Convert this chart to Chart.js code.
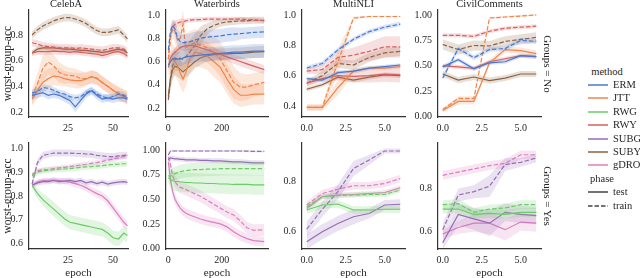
<!DOCTYPE html>
<html>
<head>
<meta charset="utf-8">
<title>worst-group-acc by epoch</title>
<script src="https://cdn.jsdelivr.net/npm/chart.js@4.4.1/dist/chart.umd.min.js"></script>
<style>
  html, body { margin: 0; padding: 0; background: #fff; }
  body { position: relative; width: 640px; height: 278px; overflow: hidden;
         font-family: 'Liberation Serif', 'DejaVu Serif', serif; color: #262626; }
  canvas { position: absolute; }
  .txt { position: absolute; white-space: nowrap; line-height: 1; transform: translate(-50%, -50%); }
  .facet { position: absolute; white-space: nowrap; font-size: 11px; line-height: 1;
           transform: translate(-50%, -50%) rotate(90deg); }
  .key { position: absolute; }
  .lbl { position: absolute; font-size: 10.5px; line-height: 1; white-space: nowrap; transform: translateY(-50%); }
</style>
</head>
<body>
<script>
// ---- data ----
const celebaEpochs = [5, 8, 11, 14, 17, 20, 23, 26, 29, 32, 35, 38, 41, 44, 47, 50, 53, 56, 58];
const waterbirdsEpochs = [0, 8, 16, 25, 35, 45, 55, 65, 80, 100, 120, 145, 170, 195, 220, 245, 270, 295, 320, 360];
const multinliEpochs = [0, 1, 2, 3, 4, 5, 6];
const civilEpochs = [0, 1, 2, 3, 4, 5, 6];

// CelebA, Groups = No
const celebaNoErmTest = [0.33, 0.34, 0.35, 0.33, 0.34, 0.33, 0.31, 0.29, 0.24, 0.29, 0.34, 0.365, 0.33, 0.30, 0.31, 0.30, 0.31, 0.31, 0.30];
const celebaNoErmTestSd = [0.03, 0.03, 0.03, 0.03, 0.03, 0.03, 0.03, 0.035, 0.04, 0.035, 0.03, 0.03, 0.03, 0.03, 0.03, 0.03, 0.03, 0.03, 0.03];
const celebaNoErmTrain = [0.35, 0.36, 0.39, 0.385, 0.37, 0.35, 0.34, 0.32, 0.31, 0.32, 0.35, 0.37, 0.34, 0.32, 0.31, 0.32, 0.34, 0.33, 0.31];
const celebaNoErmTrainSd = [0.025, 0.025, 0.025, 0.025, 0.025, 0.025, 0.025, 0.025, 0.025, 0.025, 0.025, 0.025, 0.025, 0.025, 0.025, 0.025, 0.025, 0.025, 0.025];
const celebaNoJttTest = [0.30, 0.37, 0.43, 0.46, 0.48, 0.475, 0.46, 0.45, 0.445, 0.445, 0.455, 0.475, 0.46, 0.43, 0.40, 0.37, 0.34, 0.32, 0.31];
const celebaNoJttTestSd = [0.05, 0.07, 0.08, 0.08, 0.07, 0.07, 0.06, 0.06, 0.06, 0.06, 0.05, 0.05, 0.05, 0.05, 0.05, 0.05, 0.05, 0.05, 0.05];
const celebaNoJttTrain = [0.32, 0.42, 0.54, 0.59, 0.56, 0.51, 0.49, 0.485, 0.48, 0.46, 0.46, 0.475, 0.465, 0.43, 0.40, 0.37, 0.35, 0.33, 0.31];
const celebaNoJttTrainSd = [0.06, 0.08, 0.10, 0.10, 0.09, 0.08, 0.07, 0.06, 0.06, 0.06, 0.05, 0.05, 0.05, 0.05, 0.05, 0.05, 0.05, 0.05, 0.05];
const celebaNoRwyTest = [0.66, 0.67, 0.67, 0.67, 0.675, 0.67, 0.67, 0.665, 0.67, 0.665, 0.66, 0.655, 0.65, 0.64, 0.65, 0.665, 0.67, 0.655, 0.635];
const celebaNoRwyTestSd = [0.025, 0.025, 0.025, 0.025, 0.025, 0.025, 0.025, 0.025, 0.025, 0.025, 0.025, 0.025, 0.025, 0.025, 0.025, 0.025, 0.025, 0.025, 0.025];
const celebaNoRwyTrain = [0.74, 0.73, 0.715, 0.71, 0.705, 0.70, 0.70, 0.70, 0.695, 0.70, 0.695, 0.69, 0.685, 0.68, 0.69, 0.70, 0.70, 0.69, 0.67];
const celebaNoRwyTrainSd = [0.03, 0.03, 0.03, 0.03, 0.03, 0.03, 0.03, 0.03, 0.03, 0.03, 0.03, 0.03, 0.03, 0.03, 0.03, 0.03, 0.03, 0.03, 0.03];
const celebaNoSubyTest = [0.66, 0.69, 0.70, 0.70, 0.70, 0.695, 0.69, 0.69, 0.685, 0.68, 0.68, 0.675, 0.67, 0.665, 0.67, 0.68, 0.69, 0.68, 0.66];
const celebaNoSubyTestSd = [0.02, 0.02, 0.02, 0.02, 0.02, 0.02, 0.02, 0.02, 0.02, 0.02, 0.02, 0.02, 0.02, 0.02, 0.02, 0.02, 0.02, 0.02, 0.02];
const celebaNoSubyTrain = [0.80, 0.84, 0.87, 0.89, 0.91, 0.925, 0.935, 0.935, 0.925, 0.91, 0.89, 0.86, 0.835, 0.82, 0.82, 0.83, 0.84, 0.80, 0.77];
const celebaNoSubyTrainSd = [0.03, 0.03, 0.03, 0.03, 0.03, 0.03, 0.03, 0.03, 0.03, 0.03, 0.03, 0.03, 0.03, 0.03, 0.03, 0.03, 0.03, 0.03, 0.03];

// CelebA, Groups = Yes
const celebaYesRwgTest = [0.845, 0.81, 0.785, 0.765, 0.745, 0.725, 0.705, 0.69, 0.685, 0.68, 0.675, 0.67, 0.665, 0.66, 0.645, 0.625, 0.62, 0.645, 0.635];
const celebaYesRwgTestSd = [0.01, 0.02, 0.025, 0.03, 0.03, 0.03, 0.03, 0.03, 0.03, 0.03, 0.03, 0.03, 0.03, 0.03, 0.03, 0.03, 0.03, 0.03, 0.03];
const celebaYesRwgTrain = [0.885, 0.90, 0.905, 0.908, 0.91, 0.912, 0.913, 0.915, 0.917, 0.92, 0.922, 0.923, 0.925, 0.927, 0.93, 0.932, 0.933, 0.935, 0.935];
const celebaYesRwgTrainSd = [0.012, 0.012, 0.012, 0.012, 0.012, 0.012, 0.012, 0.012, 0.012, 0.012, 0.012, 0.012, 0.012, 0.012, 0.012, 0.012, 0.012, 0.012, 0.012];
const celebaYesSubgTest = [0.845, 0.855, 0.86, 0.86, 0.865, 0.86, 0.862, 0.865, 0.86, 0.865, 0.855, 0.86, 0.852, 0.858, 0.85, 0.855, 0.858, 0.86, 0.857];
const celebaYesSubgTestSd = [0.012, 0.012, 0.012, 0.012, 0.012, 0.012, 0.012, 0.012, 0.012, 0.012, 0.012, 0.012, 0.012, 0.012, 0.012, 0.012, 0.012, 0.012, 0.012];
const celebaYesSubgTrain = [0.85, 0.94, 0.97, 0.975, 0.98, 0.98, 0.98, 0.98, 0.978, 0.978, 0.976, 0.975, 0.97, 0.968, 0.965, 0.965, 0.968, 0.97, 0.97];
const celebaYesSubgTrainSd = [0.015, 0.015, 0.015, 0.015, 0.015, 0.015, 0.015, 0.015, 0.015, 0.015, 0.015, 0.015, 0.015, 0.015, 0.015, 0.015, 0.015, 0.015, 0.015];
const celebaYesGdroTest = [0.845, 0.858, 0.865, 0.866, 0.866, 0.864, 0.862, 0.858, 0.852, 0.845, 0.835, 0.822, 0.81, 0.80, 0.78, 0.75, 0.72, 0.69, 0.675];
const celebaYesGdroTestSd = [0.01, 0.01, 0.01, 0.01, 0.012, 0.012, 0.012, 0.014, 0.014, 0.015, 0.015, 0.016, 0.017, 0.018, 0.02, 0.02, 0.02, 0.02, 0.02];
const celebaYesGdroTrain = [0.89, 0.905, 0.91, 0.912, 0.915, 0.918, 0.92, 0.923, 0.927, 0.93, 0.933, 0.937, 0.94, 0.945, 0.95, 0.955, 0.96, 0.965, 0.97];
const celebaYesGdroTrainSd = [0.01, 0.01, 0.01, 0.01, 0.01, 0.01, 0.01, 0.01, 0.01, 0.01, 0.01, 0.01, 0.01, 0.01, 0.01, 0.01, 0.01, 0.01, 0.01];

// Waterbirds, Groups = No
const wbNoErmTest = [0.57, 0.60, 0.62, 0.63, 0.62, 0.62, 0.63, 0.64, 0.645, 0.65, 0.655, 0.66, 0.665, 0.67, 0.675, 0.68, 0.68, 0.685, 0.69, 0.69];
const wbNoErmTestSd = [0.04, 0.05, 0.06, 0.06, 0.06, 0.06, 0.06, 0.06, 0.06, 0.06, 0.06, 0.06, 0.06, 0.06, 0.06, 0.06, 0.06, 0.06, 0.06, 0.06];
const wbNoErmTrain = [0.70, 0.86, 0.91, 0.88, 0.80, 0.77, 0.76, 0.765, 0.77, 0.785, 0.80, 0.81, 0.815, 0.82, 0.83, 0.835, 0.84, 0.845, 0.85, 0.855];
const wbNoErmTrainSd = [0.05, 0.05, 0.05, 0.06, 0.07, 0.07, 0.07, 0.07, 0.07, 0.07, 0.06, 0.06, 0.06, 0.06, 0.06, 0.06, 0.05, 0.05, 0.05, 0.05];
const wbNoJttTest = [0.55, 0.60, 0.63, 0.60, 0.56, 0.50, 0.45, 0.50, 0.62, 0.68, 0.67, 0.65, 0.60, 0.55, 0.45, 0.36, 0.31, 0.31, 0.32, 0.32];
const wbNoJttTestSd = [0.08, 0.10, 0.12, 0.12, 0.12, 0.12, 0.12, 0.12, 0.12, 0.12, 0.12, 0.12, 0.13, 0.13, 0.13, 0.12, 0.10, 0.09, 0.09, 0.09];
const wbNoJttTrain = [0.62, 0.80, 0.88, 0.86, 0.78, 0.80, 0.92, 0.72, 0.74, 0.76, 0.74, 0.72, 0.68, 0.62, 0.52, 0.42, 0.38, 0.38, 0.40, 0.42];
const wbNoJttTrainSd = [0.08, 0.08, 0.08, 0.10, 0.12, 0.12, 0.12, 0.12, 0.12, 0.12, 0.12, 0.13, 0.14, 0.15, 0.15, 0.14, 0.12, 0.11, 0.10, 0.10];
const wbNoRwyTest = [0.55, 0.63, 0.66, 0.68, 0.70, 0.72, 0.73, 0.735, 0.74, 0.735, 0.72, 0.70, 0.68, 0.66, 0.64, 0.62, 0.60, 0.58, 0.56, 0.53];
const wbNoRwyTestSd = [0.04, 0.04, 0.04, 0.04, 0.04, 0.04, 0.04, 0.04, 0.04, 0.04, 0.04, 0.04, 0.04, 0.04, 0.04, 0.04, 0.04, 0.04, 0.04, 0.04];
const wbNoRwyTrain = [0.62, 0.82, 0.90, 0.92, 0.93, 0.94, 0.94, 0.95, 0.955, 0.96, 0.96, 0.965, 0.965, 0.965, 0.965, 0.965, 0.965, 0.96, 0.96, 0.95];
const wbNoRwyTrainSd = [0.06, 0.05, 0.04, 0.03, 0.03, 0.03, 0.03, 0.02, 0.02, 0.02, 0.02, 0.02, 0.02, 0.02, 0.02, 0.02, 0.02, 0.02, 0.02, 0.02];
const wbNoSubyTest = [0.30, 0.45, 0.53, 0.56, 0.55, 0.53, 0.51, 0.53, 0.56, 0.60, 0.63, 0.65, 0.66, 0.665, 0.665, 0.67, 0.67, 0.675, 0.68, 0.685];
const wbNoSubyTestSd = [0.05, 0.08, 0.08, 0.08, 0.08, 0.08, 0.08, 0.07, 0.07, 0.06, 0.06, 0.05, 0.05, 0.05, 0.05, 0.05, 0.05, 0.05, 0.05, 0.05];
const wbNoSubyTrain = [0.27, 0.45, 0.56, 0.62, 0.62, 0.63, 0.62, 0.64, 0.68, 0.74, 0.82, 0.88, 0.91, 0.93, 0.94, 0.945, 0.95, 0.95, 0.955, 0.955];
const wbNoSubyTrainSd = [0.05, 0.10, 0.10, 0.10, 0.10, 0.10, 0.10, 0.10, 0.10, 0.10, 0.08, 0.05, 0.04, 0.03, 0.03, 0.03, 0.03, 0.03, 0.03, 0.03];

// Waterbirds, Groups = Yes
const wbYesRwgTest = [0.72, 0.70, 0.69, 0.68, 0.68, 0.675, 0.675, 0.67, 0.67, 0.665, 0.665, 0.66, 0.66, 0.655, 0.655, 0.65, 0.65, 0.65, 0.645, 0.645];
const wbYesRwgTestSd = [0.06, 0.08, 0.10, 0.10, 0.10, 0.10, 0.10, 0.10, 0.10, 0.10, 0.10, 0.10, 0.10, 0.10, 0.10, 0.10, 0.10, 0.10, 0.10, 0.10];
const wbYesRwgTrain = [0.74, 0.73, 0.75, 0.76, 0.77, 0.78, 0.785, 0.79, 0.795, 0.80, 0.80, 0.805, 0.805, 0.81, 0.81, 0.81, 0.81, 0.81, 0.81, 0.81];
const wbYesRwgTrainSd = [0.07, 0.07, 0.07, 0.07, 0.07, 0.07, 0.07, 0.07, 0.07, 0.07, 0.07, 0.07, 0.07, 0.07, 0.07, 0.07, 0.07, 0.07, 0.07, 0.07];
const wbYesSubgTest = [0.90, 0.92, 0.915, 0.91, 0.91, 0.905, 0.905, 0.90, 0.90, 0.90, 0.895, 0.895, 0.89, 0.89, 0.885, 0.88, 0.88, 0.875, 0.87, 0.87];
const wbYesSubgTestSd = [0.025, 0.025, 0.025, 0.025, 0.025, 0.025, 0.025, 0.025, 0.025, 0.025, 0.025, 0.025, 0.025, 0.025, 0.025, 0.025, 0.025, 0.025, 0.025, 0.025];
const wbYesSubgTrain = [0.95, 0.99, 0.99, 0.99, 0.99, 0.99, 0.99, 0.99, 0.99, 0.99, 0.99, 0.99, 0.99, 0.99, 0.99, 0.99, 0.99, 0.988, 0.986, 0.985];
const wbYesSubgTrainSd = [0.01, 0.01, 0.01, 0.01, 0.01, 0.01, 0.01, 0.01, 0.01, 0.01, 0.01, 0.01, 0.01, 0.01, 0.01, 0.01, 0.01, 0.01, 0.01, 0.01];
const wbYesGdroTest = [0.88, 0.70, 0.58, 0.50, 0.45, 0.41, 0.38, 0.36, 0.34, 0.32, 0.30, 0.28, 0.265, 0.25, 0.22, 0.17, 0.13, 0.10, 0.08, 0.07];
const wbYesGdroTestSd = [0.05, 0.05, 0.05, 0.05, 0.05, 0.05, 0.05, 0.05, 0.05, 0.05, 0.05, 0.05, 0.05, 0.05, 0.05, 0.05, 0.05, 0.05, 0.05, 0.05];
const wbYesGdroTrain = [0.93, 0.85, 0.74, 0.68, 0.64, 0.62, 0.61, 0.60, 0.58, 0.555, 0.53, 0.49, 0.45, 0.41, 0.37, 0.34, 0.28, 0.21, 0.185, 0.19];
const wbYesGdroTrainSd = [0.06, 0.06, 0.06, 0.06, 0.06, 0.06, 0.06, 0.06, 0.06, 0.06, 0.06, 0.06, 0.06, 0.06, 0.06, 0.06, 0.06, 0.06, 0.06, 0.06];

// MultiNLI, Groups = No
const nliNoErmTest = [0.58, 0.57, 0.62, 0.63, 0.65, 0.66, 0.67];
const nliNoErmTestSd = [0.012, 0.012, 0.012, 0.012, 0.012, 0.012, 0.012];
const nliNoErmTrain = [0.65, 0.68, 0.77, 0.84, 0.89, 0.92, 0.94];
const nliNoErmTrainSd = [0.015, 0.015, 0.015, 0.015, 0.015, 0.015, 0.015];
const nliNoJttTest = [0.39, 0.39, 0.52, 0.63, 0.65, 0.65, 0.66];
const nliNoJttTestSd = [0.02, 0.02, 0.05, 0.02, 0.015, 0.015, 0.015];
const nliNoJttTrain = [0.39, 0.39, 0.69, 0.98, 0.99, 0.99, 0.99];
const nliNoJttTrainSd = [0.02, 0.02, 0.08, 0.01, 0.005, 0.005, 0.005];
const nliNoRwyTest = [0.55, 0.58, 0.60, 0.595, 0.60, 0.61, 0.605];
const nliNoRwyTestSd = [0.02, 0.02, 0.03, 0.04, 0.045, 0.05, 0.05];
const nliNoRwyTrain = [0.63, 0.64, 0.72, 0.735, 0.76, 0.79, 0.79];
const nliNoRwyTrainSd = [0.02, 0.03, 0.04, 0.05, 0.06, 0.07, 0.07];
const nliNoSubyTest = [0.51, 0.54, 0.59, 0.57, 0.59, 0.605, 0.60];
const nliNoSubyTestSd = [0.015, 0.015, 0.015, 0.015, 0.015, 0.015, 0.015];
const nliNoSubyTrain = [0.55, 0.60, 0.68, 0.67, 0.72, 0.75, 0.76];
const nliNoSubyTrainSd = [0.02, 0.03, 0.03, 0.03, 0.03, 0.03, 0.03];

// MultiNLI, Groups = Yes
const nliYesRwgTest = [0.687, 0.707, 0.711, 0.687, 0.687, 0.69, 0.69];
const nliYesRwgTestSd = [0.015, 0.015, 0.015, 0.015, 0.015, 0.015, 0.015];
const nliYesRwgTrain = [0.70, 0.74, 0.745, 0.747, 0.749, 0.749, 0.767];
const nliYesRwgTrainSd = [0.01, 0.01, 0.01, 0.01, 0.01, 0.01, 0.01];
const nliYesSubgTest = [0.56, 0.60, 0.633, 0.66, 0.673, 0.707, 0.71];
const nliYesSubgTestSd = [0.03, 0.03, 0.03, 0.03, 0.02, 0.02, 0.02];
const nliYesSubgTrain = [0.61, 0.69, 0.76, 0.853, 0.887, 0.923, 0.923];
const nliYesSubgTrainSd = [0.03, 0.03, 0.03, 0.03, 0.02, 0.01, 0.01];
const nliYesGdroTest = [0.693, 0.74, 0.747, 0.749, 0.753, 0.757, 0.776];
const nliYesGdroTestSd = [0.01, 0.01, 0.01, 0.01, 0.01, 0.01, 0.01];
const nliYesGdroTrain = [0.707, 0.753, 0.77, 0.784, 0.784, 0.793, 0.813];
const nliYesGdroTrainSd = [0.015, 0.015, 0.015, 0.015, 0.015, 0.015, 0.015];

// CivilComments, Groups = No
const civilNoErmTest = [0.49, 0.56, 0.47, 0.53, 0.54, 0.60, 0.59];
const civilNoErmTestSd = [0.02, 0.02, 0.02, 0.02, 0.02, 0.02, 0.02];
const civilNoErmTrain = [0.38, 0.67, 0.58, 0.66, 0.67, 0.75, 0.74];
const civilNoErmTrainSd = [0.025, 0.025, 0.025, 0.025, 0.025, 0.025, 0.025];
const civilNoJttTest = [0.06, 0.15, 0.15, 0.53, 0.66, 0.65, 0.62];
const civilNoJttTestSd = [0.02, 0.03, 0.03, 0.03, 0.03, 0.03, 0.03];
const civilNoJttTrain = [0.07, 0.18, 0.18, 0.97, 0.98, 0.99, 1.00];
const civilNoJttTrainSd = [0.01, 0.02, 0.02, 0.01, 0.01, 0.01, 0.01];
const civilNoRwyTest = [0.50, 0.49, 0.475, 0.54, 0.57, 0.60, 0.59];
const civilNoRwyTestSd = [0.02, 0.02, 0.02, 0.02, 0.02, 0.02, 0.02];
const civilNoRwyTrain = [0.80, 0.80, 0.79, 0.84, 0.87, 0.88, 0.89];
const civilNoRwyTrainSd = [0.02, 0.02, 0.02, 0.02, 0.02, 0.02, 0.02];
const civilNoSubyTest = [0.42, 0.36, 0.39, 0.355, 0.38, 0.42, 0.42];
const civilNoSubyTestSd = [0.03, 0.03, 0.03, 0.03, 0.03, 0.03, 0.03];
const civilNoSubyTrain = [0.71, 0.66, 0.70, 0.695, 0.74, 0.76, 0.78];
const civilNoSubyTrainSd = [0.05, 0.05, 0.05, 0.05, 0.05, 0.05, 0.05];

// CivilComments, Groups = Yes
const civilYesRwgTest = [0.705, 0.705, 0.68, 0.685, 0.68, 0.69, 0.69];
const civilYesRwgTestSd = [0.02, 0.02, 0.02, 0.02, 0.02, 0.02, 0.02];
const civilYesRwgTrain = [0.725, 0.73, 0.69, 0.705, 0.71, 0.725, 0.725];
const civilYesRwgTrainSd = [0.02, 0.02, 0.02, 0.02, 0.02, 0.02, 0.02];
const civilYesSubgTest = [0.55, 0.68, 0.66, 0.64, 0.69, 0.68, 0.675];
const civilYesSubgTestSd = [0.03, 0.05, 0.05, 0.06, 0.04, 0.04, 0.04];
const civilYesSubgTrain = [0.61, 0.77, 0.785, 0.81, 0.91, 0.92, 0.94];
const civilYesSubgTrainSd = [0.03, 0.03, 0.03, 0.05, 0.03, 0.02, 0.02];
const civilYesGdroTest = [0.59, 0.62, 0.64, 0.64, 0.61, 0.645, 0.64];
const civilYesGdroTestSd = [0.02, 0.03, 0.04, 0.05, 0.05, 0.04, 0.04];
const civilYesGdroTrain = [0.86, 0.875, 0.89, 0.905, 0.915, 0.955, 0.955];
const civilYesGdroTrainSd = [0.02, 0.02, 0.02, 0.02, 0.02, 0.02, 0.02];

const methodNames = ['ERM', 'JTT', 'RWG', 'RWY', 'SUBG', 'SUBY', 'gDRO'];
const methodColors = ['#4878d0', '#ee854a', '#6acc64', '#d65f5f', '#956cb4', '#8c613c', '#dc7ec0'];

// ---- layout ----
const SERIF = "'Liberation Serif', 'DejaVu Serif', serif";
const INK = '#262626';
const colLeft = [29, 166, 302, 438];
const colRight = [128, 268, 405, 541];
const rowTop = [10, 143];
const rowBottom = [117, 249];
const titleShift = [-12.5, 0, 0, 0];   // CelebA title sits left of its plot centre

function colorOf(method) {
    return methodColors[methodNames.indexOf(method)];
}

function withAlpha(hex, a) {
    const n = parseInt(hex.slice(1), 16);
    return `rgba(${(n >> 16) & 255}, ${(n >> 8) & 255}, ${n & 255}, ${a})`;
}

function series(method, phase, mean, sd) {
    return { method, phase, mean, sd };
}

const panels = [
    { row: 0, col: 0, title: 'CelebA', epochs: celebaEpochs, xr: [3.3, 58.3], xt: [25, 50], xd: 0,
      yr: [0.161, 0.995], yt: [0.2, 0.4, 0.6, 0.8], yd: 1,
      lines: [series('ERM', 'test', celebaNoErmTest, celebaNoErmTestSd), series('ERM', 'train', celebaNoErmTrain, celebaNoErmTrainSd),
              series('JTT', 'test', celebaNoJttTest, celebaNoJttTestSd), series('JTT', 'train', celebaNoJttTrain, celebaNoJttTrainSd),
              series('RWY', 'test', celebaNoRwyTest, celebaNoRwyTestSd), series('RWY', 'train', celebaNoRwyTrain, celebaNoRwyTrainSd),
              series('SUBY', 'test', celebaNoSubyTest, celebaNoSubyTestSd), series('SUBY', 'train', celebaNoSubyTrain, celebaNoSubyTrainSd)] },
    { row: 0, col: 1, title: 'Waterbirds', epochs: waterbirdsEpochs, xr: [-8.7, 373.8], xt: [0, 200], xd: 0,
      yr: [0.123, 1.043], yt: [0.2, 0.4, 0.6, 0.8, 1.0], yd: 1,
      lines: [series('ERM', 'test', wbNoErmTest, wbNoErmTestSd), series('ERM', 'train', wbNoErmTrain, wbNoErmTrainSd),
              series('JTT', 'test', wbNoJttTest, wbNoJttTestSd), series('JTT', 'train', wbNoJttTrain, wbNoJttTrainSd),
              series('RWY', 'test', wbNoRwyTest, wbNoRwyTestSd), series('RWY', 'train', wbNoRwyTrain, wbNoRwyTrainSd),
              series('SUBY', 'test', wbNoSubyTest, wbNoSubyTestSd), series('SUBY', 'train', wbNoSubyTrain, wbNoSubyTrainSd)] },
    { row: 0, col: 2, title: 'MultiNLI', epochs: multinliEpochs, xr: [-0.3, 6.3], xt: [0, 2.5, 5], xd: 1,
      yr: [0.327, 1.033], yt: [0.4, 0.6, 0.8, 1.0], yd: 1,
      lines: [series('ERM', 'test', nliNoErmTest, nliNoErmTestSd), series('ERM', 'train', nliNoErmTrain, nliNoErmTrainSd),
              series('JTT', 'test', nliNoJttTest, nliNoJttTestSd), series('JTT', 'train', nliNoJttTrain, nliNoJttTrainSd),
              series('RWY', 'test', nliNoRwyTest, nliNoRwyTestSd), series('RWY', 'train', nliNoRwyTrain, nliNoRwyTrainSd),
              series('SUBY', 'test', nliNoSubyTest, nliNoSubyTestSd), series('SUBY', 'train', nliNoSubyTrain, nliNoSubyTrainSd)] },
    { row: 0, col: 3, title: 'CivilComments', epochs: civilEpochs, xr: [-0.3, 6.3], xt: [0, 2.5, 5], xd: 1,
      yr: [-0.003, 1.049], yt: [0, 0.25, 0.5, 0.75, 1.0], yd: 2,
      lines: [series('ERM', 'test', civilNoErmTest, civilNoErmTestSd), series('ERM', 'train', civilNoErmTrain, civilNoErmTrainSd),
              series('JTT', 'test', civilNoJttTest, civilNoJttTestSd), series('JTT', 'train', civilNoJttTrain, civilNoJttTrainSd),
              series('RWY', 'test', civilNoRwyTest, civilNoRwyTestSd), series('RWY', 'train', civilNoRwyTrain, civilNoRwyTrainSd),
              series('SUBY', 'test', civilNoSubyTest, civilNoSubyTestSd), series('SUBY', 'train', civilNoSubyTrain, civilNoSubyTrainSd)] },
    { row: 1, col: 0, title: '', epochs: celebaEpochs, xr: [3.3, 58.3], xt: [25, 50], xd: 0,
      yr: [0.578, 1.022], yt: [0.6, 0.7, 0.8, 0.9, 1.0], yd: 1,
      lines: [series('RWG', 'test', celebaYesRwgTest, celebaYesRwgTestSd), series('RWG', 'train', celebaYesRwgTrain, celebaYesRwgTrainSd),
              series('SUBG', 'test', celebaYesSubgTest, celebaYesSubgTestSd), series('SUBG', 'train', celebaYesSubgTrain, celebaYesSubgTrainSd),
              series('gDRO', 'test', celebaYesGdroTest, celebaYesGdroTestSd), series('gDRO', 'train', celebaYesGdroTrain, celebaYesGdroTrainSd)] },
    { row: 1, col: 1, title: '', epochs: waterbirdsEpochs, xr: [-8.7, 373.8], xt: [0, 200], xd: 0,
      yr: [-0.005, 1.071], yt: [0, 0.25, 0.5, 0.75, 1.0], yd: 2,
      lines: [series('RWG', 'test', wbYesRwgTest, wbYesRwgTestSd), series('RWG', 'train', wbYesRwgTrain, wbYesRwgTrainSd),
              series('SUBG', 'test', wbYesSubgTest, wbYesSubgTestSd), series('SUBG', 'train', wbYesSubgTrain, wbYesSubgTrainSd),
              series('gDRO', 'test', wbYesGdroTest, wbYesGdroTestSd), series('gDRO', 'train', wbYesGdroTrain, wbYesGdroTrainSd)] },
    { row: 1, col: 2, title: '', epochs: multinliEpochs, xr: [-0.3, 6.3], xt: [0, 2.5, 5], xd: 1,
      yr: [0.531, 0.955], yt: [0.6, 0.8], yd: 1,
      lines: [series('RWG', 'test', nliYesRwgTest, nliYesRwgTestSd), series('RWG', 'train', nliYesRwgTrain, nliYesRwgTrainSd),
              series('SUBG', 'test', nliYesSubgTest, nliYesSubgTestSd), series('SUBG', 'train', nliYesSubgTrain, nliYesSubgTrainSd),
              series('gDRO', 'test', nliYesGdroTest, nliYesGdroTestSd), series('gDRO', 'train', nliYesGdroTrain, nliYesGdroTrainSd)] },
    { row: 1, col: 3, title: '', epochs: civilEpochs, xr: [-0.3, 6.3], xt: [0, 2.5, 5], xd: 1,
      yr: [0.521, 1.009], yt: [0.6, 0.8], yd: 1,
      lines: [series('RWG', 'test', civilYesRwgTest, civilYesRwgTestSd), series('RWG', 'train', civilYesRwgTrain, civilYesRwgTrainSd),
              series('SUBG', 'test', civilYesSubgTest, civilYesSubgTestSd), series('SUBG', 'train', civilYesSubgTrain, civilYesSubgTrainSd),
              series('gDRO', 'test', civilYesGdroTest, civilYesGdroTestSd), series('gDRO', 'train', civilYesGdroTrain, civilYesGdroTrainSd)] }
];

// panel title centred over the plot area (the stock title centres over the whole canvas)
const panelTitle = {
    id: 'panelTitle',
    afterDraw(chart, args, opts) {
        if (!opts.text) return;
        const { ctx, chartArea } = chart;
        ctx.save();
        ctx.font = `10.5px ${SERIF}`;
        ctx.fillStyle = INK;
        ctx.textAlign = 'center';
        ctx.textBaseline = 'middle';
        ctx.fillText(opts.text, (chartArea.left + chartArea.right) / 2 + opts.shift, chartArea.top - 6);
        ctx.restore();
    }
};

function buildDatasets(p) {
    const out = [];
    p.lines.forEach(s => {
        const col = colorOf(s.method);
        // band: lower edge, then upper edge filled down to it
        out.push({ data: p.epochs.map((x, i) => ({ x, y: s.mean[i] - s.sd[i] })),
                   borderWidth: 0, pointRadius: 0, fill: false, borderColor: 'transparent' });
        out.push({ data: p.epochs.map((x, i) => ({ x, y: s.mean[i] + s.sd[i] })),
                   borderWidth: 0, pointRadius: 0, fill: '-1', borderColor: 'transparent',
                   backgroundColor: withAlpha(col, 0.2) });
        out.push({ data: p.epochs.map((x, i) => ({ x, y: s.mean[i] })),
                   borderColor: col, borderWidth: 1.2, pointRadius: 0, fill: false,
                   borderDash: s.phase === 'train' ? [4.5, 2] : [] });
    });
    return out;
}

function makePanel(p) {
    const yw = p.col === 0 ? 29 : 30;
    const topSpace = p.row === 0 ? 13 : 8;
    const xh = p.row === 0 ? 20 : 30;
    const plotW = colRight[p.col] - colLeft[p.col];
    const plotH = rowBottom[p.row] - rowTop[p.row];

    const canvas = document.createElement('canvas');
    canvas.width = yw + plotW + 6;
    canvas.height = topSpace + plotH + xh;
    canvas.style.left = (colLeft[p.col] - yw) + 'px';
    canvas.style.top = (rowTop[p.row] - topSpace) + 'px';
    document.body.appendChild(canvas);

    const tickFont = { family: SERIF, size: 10 };

    new Chart(canvas.getContext('2d'), {
        type: 'line',
        data: { datasets: buildDatasets(p) },
        plugins: [panelTitle],
        options: {
            responsive: false,
            animation: false,
            events: [],
            layout: { padding: { top: topSpace, right: 6, left: 0, bottom: 0 } },
            plugins: {
                legend: { display: false },
                tooltip: { enabled: false },
                panelTitle: { text: p.title, shift: titleShift[p.col] }
            },
            scales: {
                x: {
                    type: 'linear',
                    min: p.xr[0],
                    max: p.xr[1],
                    grid: { display: false, drawTicks: false },
                    border: { display: true, color: '#333', width: 1.2 },
                    ticks: { font: tickFont, color: INK, padding: 5, maxRotation: 0,
                             callback: v => v.toFixed(p.xd) },
                    title: { display: p.row === 1, text: 'epoch', color: INK,
                             font: { family: SERIF, size: 11, lineHeight: '12px' }, padding: 0 },
                    afterBuildTicks: s => { s.ticks = p.xt.map(v => ({ value: v })); },
                    afterFit: s => { s.height = xh; s.paddingLeft = 0; s.paddingRight = 0; }
                },
                y: {
                    type: 'linear',
                    min: p.yr[0],
                    max: p.yr[1],
                    grid: { display: false, drawTicks: false },
                    border: { display: true, color: '#333', width: 1.2 },
                    ticks: { font: tickFont, color: INK, padding: 6,
                             callback: v => v.toFixed(p.yd) },
                    title: { display: p.col === 0, text: 'worst-group-acc', color: INK,
                             font: { family: SERIF, size: 11.5, lineHeight: '13px' }, padding: { top: 1, bottom: 0 } },
                    afterBuildTicks: s => { s.ticks = p.yt.map(v => ({ value: v })); },
                    afterFit: s => { s.width = yw; s.paddingTop = 0; s.paddingBottom = 0; }
                }
            }
        }
    });
}

panels.forEach(makePanel);

// ---- facet row labels ----
function addText(cls, text, x, y, size) {
    const d = document.createElement('div');
    d.className = cls;
    d.textContent = text;
    d.style.left = x + 'px';
    d.style.top = y + 'px';
    if (size) d.style.fontSize = size + 'px';
    document.body.appendChild(d);
    return d;
}
addText('facet', 'Groups = No', 547, (rowTop[0] + rowBottom[0]) / 2);
addText('facet', 'Groups = Yes', 547, (rowTop[1] + rowBottom[1]) / 2);

// ---- legend ----
function addKey(y, color, dashed) {
    const ns = 'http://www.w3.org/2000/svg';
    const svg = document.createElementNS(ns, 'svg');
    svg.setAttribute('width', '20');
    svg.setAttribute('height', '4');
    svg.setAttribute('class', 'key');
    svg.style.left = '588px';
    svg.style.top = (y - 2) + 'px';
    const ln = document.createElementNS(ns, 'line');
    ln.setAttribute('x1', '0'); ln.setAttribute('x2', '20');
    ln.setAttribute('y1', '2'); ln.setAttribute('y2', '2');
    ln.setAttribute('stroke', color);
    ln.setAttribute('stroke-width', '1.5');
    if (dashed) ln.setAttribute('stroke-dasharray', '4.5 2');
    svg.appendChild(ln);
    document.body.appendChild(svg);
}

const legendStep = 13.4;
addText('txt', 'method', 607, 72, 10.5);
methodNames.forEach((m, i) => {
    const y = 85 + i * legendStep;
    addKey(y, methodColors[i], false);
    addText('lbl', m, 613, y);
});
const phaseY = 85 + 7 * legendStep;
addText('txt', 'phase', 602, phaseY, 10.5);
addKey(phaseY + legendStep, '#444', false);
addText('lbl', 'test', 613, phaseY + legendStep);
addKey(phaseY + 2 * legendStep, '#444', true);
addText('lbl', 'train', 613, phaseY + 2 * legendStep);
</script>
</body>
</html>
